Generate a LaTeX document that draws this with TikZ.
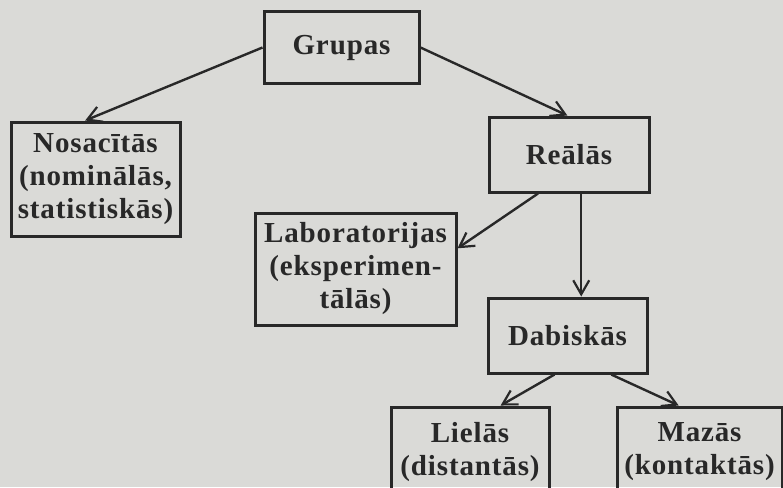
\documentclass[tikz,border=0pt]{standalone}
\usepackage{fontspec}
\setmainfont{Liberation Serif}[LetterSpace=3]
\usetikzlibrary{arrows.meta,calc}
\definecolor{paper}{RGB}{218,218,215}
\definecolor{ink}{RGB}{40,40,40}
\tikzset{
  box/.style={draw=ink, line width=3pt, inner sep=0pt, align=center, text=ink,
    font=\fontsize{29}{33}\selectfont\bfseries},
  link/.style={draw=ink, line width=2.4pt,
    -{Straight Barb[length=14pt,width=16pt,line width=2.2pt]}}
}
\begin{document}
\begin{tikzpicture}[x={(1pt,0)}, y={(0,-1pt)}]
\fill[paper] (0,0) rectangle (783,487);
\useasboundingbox (0,0) rectangle (783,487);
\node[box, minimum width=155pt, minimum height=71pt] (gru) at (341.5,47.5) {Grupas};
\node[box, minimum width=169pt, minimum height=114pt] (nos) at (95.5,179) {Nosacītās\\(nominālās,\\statistiskās)};
\node[box, minimum width=160pt, minimum height=75pt] (rea) at (569,154.5) {Reālās};
\node[box, minimum width=201pt, minimum height=112pt] (lab) at (355.5,269) {Laboratorijas\\(eksperimen-\\tālās)};
\node[box, minimum width=159pt, minimum height=75pt] (dab) at (567.5,335.5) {Dabiskās};
\node[box, minimum width=158pt, minimum height=90pt] (lie) at (470,452) {Lielās\\(distantās)};
\node[box, minimum width=165pt, minimum height=90pt] (maz) at (699.5,452) {Mazās\\(kontaktās)};
% connectors
\draw[link] (gru.west) -- ($(nos.north west)!0.44!(nos.north east)$);
\draw[link] (gru.east) -- ($(rea.north west)!0.49!(rea.north east)$);
\draw[link] ($(rea.south west)!0.31!(rea.south east)$) -- ($(lab.north east)!0.32!(lab.south east)$);
\coordinate (rd) at ($(rea.south west)!0.575!(rea.south east)$);
\draw[link] (rd) -- (rd |- dab.north);
\draw[link] ($(dab.south west)!0.42!(dab.south east)$) -- ($(lie.north west)!0.69!(lie.north east)$);
\draw[link] ($(dab.south west)!0.77!(dab.south east)$) -- ($(maz.north west)!0.376!(maz.north east)$);
\end{tikzpicture}
\end{document}
